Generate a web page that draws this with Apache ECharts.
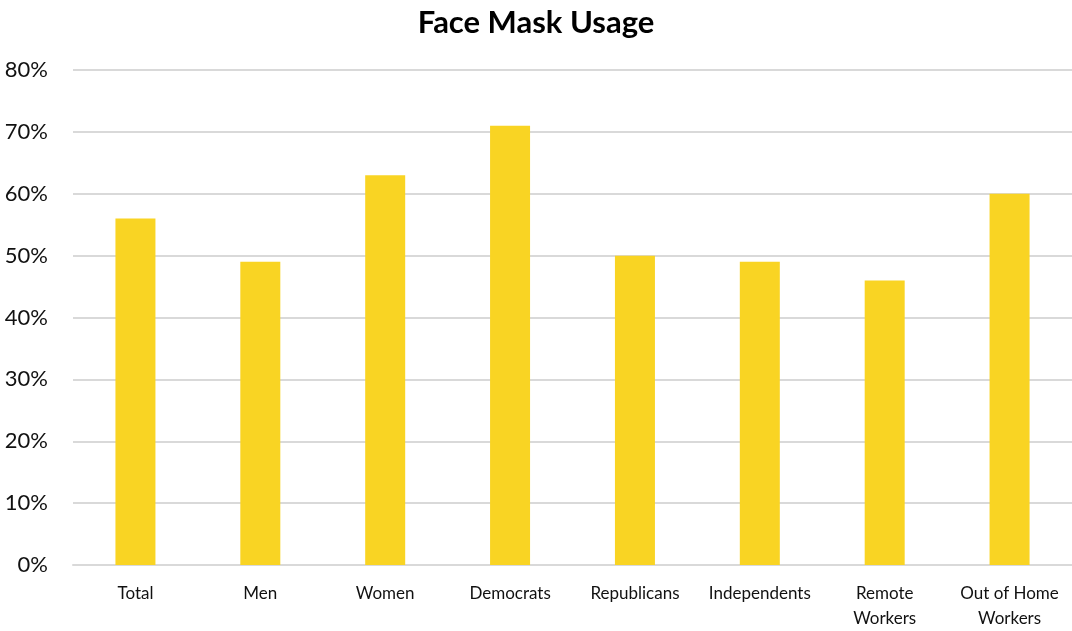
<!DOCTYPE html>
<html><head><meta charset="utf-8">
<script src="https://cdn.jsdelivr.net/npm/echarts@6/dist/echarts.min.js"></script>
<style>html,body{margin:0;padding:0;background:#fff}#c{width:1072px;height:631px}</style>
</head><body><div id="c"></div>
<script>
const categories = ["Total","Men","Women","Democrats","Republicans","Independents","Remote\nWorkers","Out of Home\nWorkers"];
const values = [56, 49, 63, 71, 50, 49, 46, 60];
const title = "Face Mask Usage";

const chart = echarts.init(document.getElementById('c'));
chart.setOption({
  animation: false,
  title: {text: title, left: 'center', top: 2,
    textStyle: {fontFamily: 'Lato', fontWeight: 'bold', fontSize: 31, color: '#000'}},
  grid: {left: 73, right: 0, top: 70, bottom: 62},
  xAxis: {type: 'category', data: categories,
    axisLine: {lineStyle: {color: '#d9d9d9', width: 2}}, axisTick: {show: false},
    axisLabel: {interval: 0, fontFamily: 'Lato', fontSize: 17, color: '#111', margin: 16, lineHeight: 25}},
  yAxis: {type: 'value', min: 0, max: 80, interval: 10,
    axisLabel: {formatter: '{value}%', fontFamily: 'Lato', fontSize: 22, color: '#111', margin: 25},
    splitLine: {lineStyle: {color: '#d9d9d9', width: 2}}, axisLine: {show: false}, axisTick: {show: false}},
  series: [{type: 'bar', data: values, barWidth: 40, itemStyle: {color: '#F9D423'}}]
});
</script></body></html>
